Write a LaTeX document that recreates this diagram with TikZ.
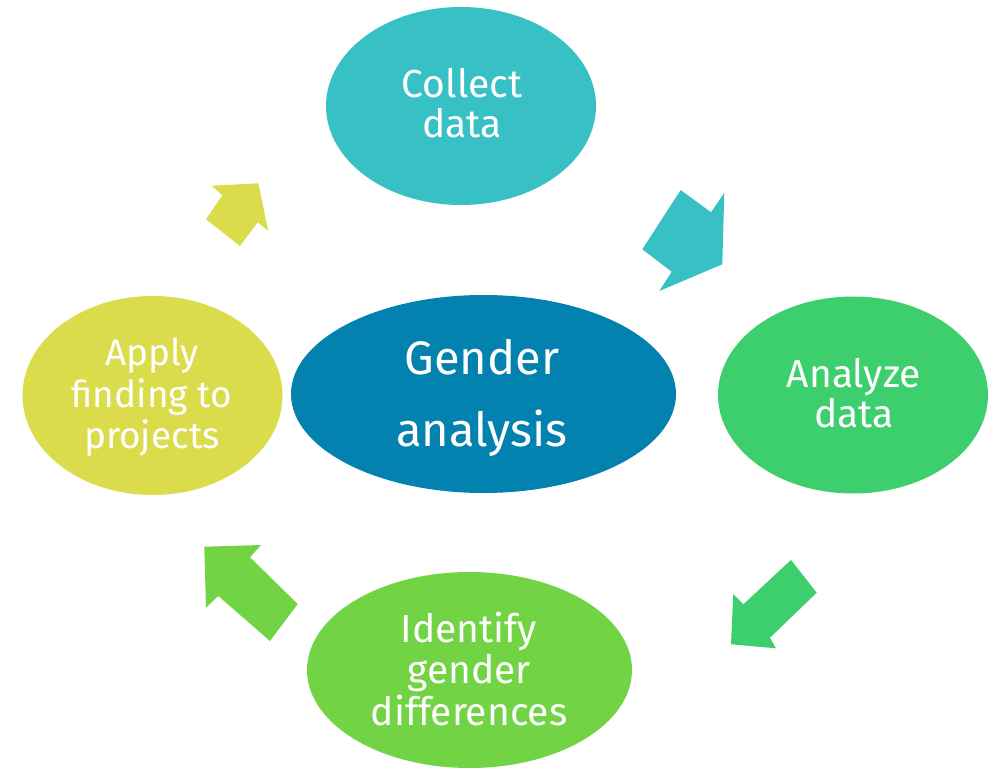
\documentclass[tikz,border=0pt]{standalone}
\usepackage{fontspec}
\setmainfont{Fira Sans}
\usetikzlibrary{shapes.geometric}
\definecolor{cteal}{RGB}{56,193,196}
\definecolor{cblue}{RGB}{3,129,175}
\definecolor{cgreen}{RGB}{61,207,110}
\definecolor{clime}{RGB}{114,212,68}
\definecolor{cyellow}{RGB}{218,220,76}
\tikzset{
  blob/.style={ellipse, inner sep=0pt, draw=none},
  txt/.style={text=white, align=center, inner sep=0pt},
}
\begin{document}
\begin{tikzpicture}[x=1pt,y=-1pt]
\useasboundingbox (0,0) rectangle (988,770);
% ellipses
\node[blob, fill=cteal, minimum width=270pt, minimum height=198pt] (collect) at (461,106) {};
\node[blob, fill=cgreen, minimum width=270pt, minimum height=197pt] (analyze) at (853,395) {};
\node[blob, fill=clime, minimum width=325pt, minimum height=196pt] (identify) at (469.5,670) {};
\node[blob, fill=cyellow, minimum width=260pt, minimum height=199pt] (apply) at (152.5,395.5) {};
\node[blob, fill=cblue, minimum width=385pt, minimum height=198pt] (gender) at (483.5,394) {};
% texts
\node[txt, font=\fontsize{39}{40}\selectfont] (collectT) at (462,103.5) {Collect\\data};
\node[txt, font=\fontsize{39}{40}\selectfont] (analyzeT) at (854,393.5) {Analyze\\data};
\node[txt, font=\fontsize{37}{41.5}\selectfont] (applyT) at (152,397.5) {Apply\\finding to\\projects};
\node[txt, font=\fontsize{39}{41.5}\selectfont] (identifyT) at (469,669) {Identify\\gender\\differences};
\node[txt, font=\fontsize{47}{72}\selectfont] (genderT) at (482,397.5) {Gender\\analysis};
% block arrows
\fill[cteal] (680.7,190) -- (711,212.3) -- (724.3,192.7) -- (722.3,264.3) -- (659.3,291) -- (671.7,271.7) -- (642.3,249.3) -- cycle;
\fill[cgreen] (791,560) -- (816.7,592.7) -- (770,637.7) -- (776,648.3) -- (731,644.3) -- (733.3,594.3) -- (743.3,604.3) -- cycle;
\fill[clime] (297.7,604) -- (270,641) -- (218.3,596) -- (206,607.7) -- (204.3,546.7) -- (261,545) -- (250,557.3) -- cycle;
\fill[cyellow] (240,246) -- (206,219.3) -- (222.3,195.3) -- (211.7,185.7) -- (258.3,183.3) -- (268.3,231) -- (257.7,222.3) -- cycle;
\end{tikzpicture}
\end{document}
